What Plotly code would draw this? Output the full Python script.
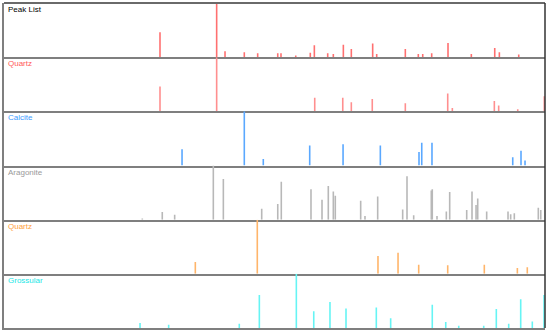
import plotly.graph_objects as go
from plotly.subplots import make_subplots

# 2-theta positions (deg) and relative intensities (%) for each panel
peak_list_pos = [20.86, 26.62, 27.47, 29.43, 30.79, 32.83, 33.16, 34.66, 36.14, 36.55, 37.91, 38.48,
                 39.50, 40.31, 42.48, 42.89, 45.80, 47.12, 47.57, 48.48, 50.14, 52.51, 54.89, 55.36, 57.33]
peak_list_int = [46, 100, 11, 9, 7, 7, 7, 3, 8, 22, 7, 6,
                 23, 15, 25, 6, 15, 6, 6, 7, 26, 6, 17, 9, 5]

quartz1_pos = [20.86, 26.62, 36.59, 39.44, 40.31, 42.44, 45.80, 50.11, 50.58, 54.85, 55.29, 57.23, 59.93]
quartz1_int = [46, 100, 25, 25, 17, 23, 15, 33, 6, 19, 11, 4, 28]

calcite_pos = [23.10, 29.43, 31.36, 36.08, 39.47, 43.26, 47.19, 47.47, 48.51, 56.72, 57.56, 57.97]
calcite_int = [30, 100, 12, 37, 39, 37, 25, 42, 42, 15, 27, 9]

aragonite_pos = [19.06, 21.09, 22.35, 26.28, 27.30, 31.20, 32.83, 33.19, 36.21, 37.33, 37.97, 38.48,
                 38.68, 41.26, 41.70, 42.99, 45.53, 45.97, 46.65, 48.44, 48.54, 49.02, 49.97, 50.31,
                 52.04, 52.58, 52.99, 53.16, 54.07, 56.24, 56.51, 56.88, 59.32, 59.57]
aragonite_int = [2, 14, 9, 100, 75, 20, 29, 70, 56, 37, 62, 52,
                 44, 35, 7, 43, 19, 80, 8, 54, 56, 7, 15, 51,
                 18, 52, 27, 39, 15, 15, 10, 12, 22, 18]

quartz2_pos = [24.45, 30.75, 43.02, 45.06, 47.16, 50.11, 53.83, 57.19, 58.20]
quartz2_int = [22, 100, 33, 39, 17, 16, 17, 11, 12]

grossular_pos = [18.83, 21.74, 28.92, 30.96, 34.72, 36.49, 38.14, 39.77, 42.85, 44.31, 48.54, 49.91,
                 51.23, 53.77, 55.05, 56.31, 57.53, 58.71, 59.90]
grossular_int = [9, 6, 8, 61, 100, 31, 48, 36, 38, 18, 43, 11,
                 4, 4, 35, 8, 53, 12, 61]

panel_names = ["Peak List", "Quartz", "Calcite", "Aragonite", "Quartz", "Grossular"]
title_colors = ["#000000", "#ff5a5a", "#3d9bff", "#9a9a9a", "#ffa040", "#22e6e6"]
line_colors = ["#ff7070", "#ff8f8f", "#5aa8ff", "#b8b8b8", "#ffb56a", "#66f4f4"]
series = [(peak_list_pos, peak_list_int), (quartz1_pos, quartz1_int), (calcite_pos, calcite_int),
          (aragonite_pos, aragonite_int), (quartz2_pos, quartz2_int), (grossular_pos, grossular_int)]

x_range = [5, 60]

fig = make_subplots(rows=6, cols=1, shared_xaxes=True, vertical_spacing=0)

for i, ((pos, inten), col) in enumerate(zip(series, line_colors)):
    xs, ys = [], []
    for p, v in zip(pos, inten):
        xs += [p, p, None]
        ys += [0, v, None]
    fig.add_trace(go.Scatter(x=xs, y=ys, mode="lines", line=dict(color=col, width=1.6),
                             hoverinfo="skip", showlegend=False), row=i + 1, col=1)
    fig.update_yaxes(range=[0, 100], visible=True, showticklabels=False, showgrid=False, zeroline=False,
                     showline=True, linecolor="#7f7f7f", linewidth=2, ticks="", row=i + 1, col=1)
    fig.update_xaxes(range=x_range, showticklabels=False, showgrid=False, zeroline=False,
                     showline=True, linecolor="#7f7f7f", linewidth=2, ticks="", row=i + 1, col=1)

annotations = []
for i, (name, c) in enumerate(zip(panel_names, title_colors)):
    yax = fig.layout["yaxis" if i == 0 else f"yaxis{i + 1}"]
    top = yax.domain[1]
    annotations.append(dict(text=name, xref="paper", yref="paper", x=0.003, y=top,
                            xanchor="left", yanchor="top", showarrow=False,
                            font=dict(family="Liberation Sans, Arial", size=8, color=c)))

fig.update_layout(
    width=550, height=336,
    margin=dict(l=4, r=5, t=3, b=8),
    paper_bgcolor="white", plot_bgcolor="white",
    annotations=annotations,
    shapes=[
        dict(type="line", xref="paper", yref="paper", x0=0, x1=1, y0=1, y1=1,
             line=dict(color="#6a6a6a", width=2)),
        dict(type="line", xref="paper", yref="paper", x0=1, x1=1, y0=0, y1=1,
             line=dict(color="#333333", width=1.5)),
    ],
)

fig.write_html("out.html", config={"displayModeBar": False},
               post_script="document.body.style.margin='0';document.body.style.overflow='hidden';")
